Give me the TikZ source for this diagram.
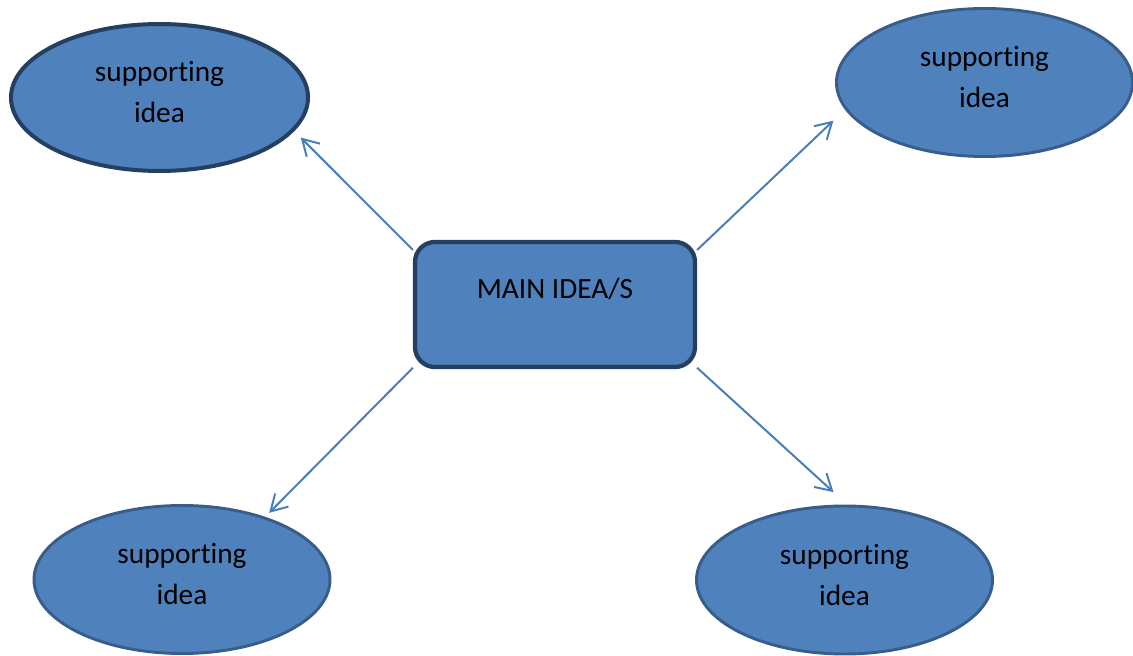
\documentclass[tikz,border=0pt]{standalone}
\usepackage{fontspec}
\setmainfont{Carlito}[Ligatures=NoCommon]
\usepackage{tikz}
\usetikzlibrary{shapes.geometric, arrows.meta}
\definecolor{ideafill}{HTML}{4F81BD}
\definecolor{darkline}{HTML}{243F60}
\definecolor{idealine}{HTML}{385D8A}
\definecolor{arrowline}{HTML}{4A7EBB}

\begin{document}
\begin{tikzpicture}[x=0.375pt,y=-0.375pt]
		\tikzstyle{idea} = [shape=ellipse, draw=idealine, line width=1.1pt, fill=ideafill, minimum width=111pt, minimum height=55.5pt, align=center, font=\fontsize{11}{15.4}\selectfont, text height=20pt, text depth=1pt]
		\tikzstyle{mainbox} = [shape=rectangle, rounded corners=7.5pt, draw=darkline, line width=1.6pt, fill=ideafill, minimum width=105pt, minimum height=46.9pt, font=\fontsize{11}{13}\selectfont, text depth=12pt]
		\tikzstyle{link} = [draw=arrowline, line width=0.75pt, -{Straight Barb[length=6pt,width=7pt]}]
		\useasboundingbox (0,0) rectangle (1133,656);
		\node [mainbox] (v1) at (555,304.5) {MAIN IDEA/S};
		\node [idea, draw=darkline, line width=1.5pt, minimum width=111.4pt, minimum height=55.1pt] (v2) at (159.5,97.5) {supporting\\idea};
		\node [idea] (v3) at (984.5,82.5) {supporting\\idea};
		\node [idea] (v4) at (182,579.5) {supporting\\idea};
		\node [idea] (v5) at (844.5,580) {supporting\\idea};
		\draw [link, shorten >=3.4pt] (v1.159) -- (v2.-14);
		\draw [link, shorten >=6pt] (v1.21) -- (v3.191);
		\draw [link, shorten >=2.1pt] (v1.204) -- (v4.37);
		\draw [link, shorten >=6.9pt] (v1.-24) -- (v5.88);
\end{tikzpicture}
\end{document}
